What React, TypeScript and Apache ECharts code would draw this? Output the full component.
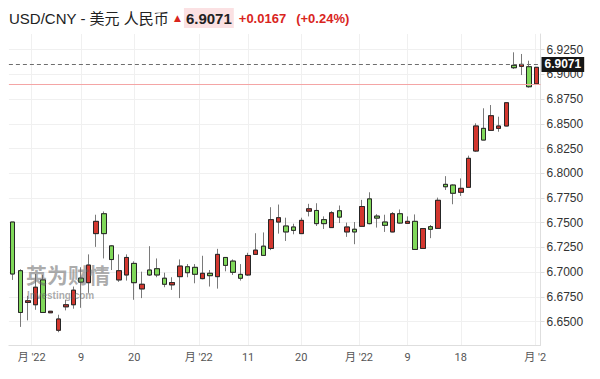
import React, { useEffect, useRef } from "react";
import * as echarts from "echarts";

// ---- data ----
const opens = [
  6.7507, 6.7015, 6.6694, 6.6671, 6.6922, 6.659, 6.6413, 6.665, 6.6671, 6.694,
  6.6894, 6.739, 6.7591, 6.7266, 6.6922, 6.6972, 6.7089, 6.6831, 6.7022, 6.7035,
  6.6939, 6.6872, 6.6955, 6.7055, 6.7049, 6.6935, 6.6989, 6.6955, 6.7149, 6.7112,
  6.6978, 6.6972, 6.718, 6.7263, 6.724, 6.7507, 6.7467, 6.7457, 6.739, 6.7617,
  6.7624, 6.7531, 6.7451, 6.7621, 6.7407, 6.7434, 6.7464, 6.7741, 6.7567, 6.7507,
  6.7407, 6.7591, 6.7494, 6.7514, 6.724, 6.746, 6.7443, 6.7888, 6.7881, 6.7808,
  6.7858, 6.8225, 6.8454, 6.8434, 6.8454, 6.8478, 6.9091, 6.9081, 6.9077, 6.8904,
];
const closes = [
  6.6982, 6.6593, 6.6711, 6.6848, 6.6593, 6.6605, 6.6527, 6.6671, 6.6818, 6.69,
  6.7072, 6.7514, 6.739, 6.7128, 6.7015, 6.7149, 6.6894, 6.6878, 6.6972, 6.6972,
  6.6878, 6.6895, 6.7062, 6.6995, 6.6979, 6.6989, 6.6965, 6.718, 6.7069, 6.6999,
  6.6939, 6.7169, 6.7223, 6.717, 6.7531, 6.7551, 6.7407, 6.7423, 6.7524, 6.7641,
  6.7491, 6.7491, 6.7601, 6.7557, 6.7457, 6.7407, 6.7664, 6.7491, 6.7547, 6.7474,
  6.7591, 6.7497, 6.7514, 6.723, 6.7441, 6.7434, 6.7727, 6.7864, 6.7798, 6.7848,
  6.8151, 6.8478, 6.8336, 6.8582, 6.8478, 6.8713, 6.9067, 6.9101, 6.8875, 6.9071,
];
const lows = [
  6.6922, 6.6447, 6.6513, 6.662, 6.6593, 6.6588, 6.6393, 6.6614, 6.6631, 6.664,
  6.6791, 6.7256, 6.7139, 6.7022, 6.6902, 6.6915, 6.6721, 6.6738, 6.6962, 6.6949,
  6.6848, 6.6821, 6.6738, 6.6949, 6.6888, 6.6928, 6.6855, 6.6834, 6.7009, 6.6972,
  6.6915, 6.6962, 6.7178, 6.7165, 6.7223, 6.739, 6.7316, 6.7383, 6.7388, 6.7564,
  6.7467, 6.7437, 6.7449, 6.7497, 6.7357, 6.7283, 6.7457, 6.7484, 6.7451, 6.7407,
  6.7404, 6.749, 6.7492, 6.7228, 6.7237, 6.7344, 6.744, 6.7831, 6.7687, 6.7771,
  6.7858, 6.8215, 6.8336, 6.843, 6.842, 6.8475, 6.9054, 6.8993, 6.8865, 6.89,
];
const highs = [
  6.7507, 6.703, 6.6761, 6.6982, 6.6972, 6.6608, 6.657, 6.6721, 6.6855, 6.705,
  6.718, 6.7581, 6.7614, 6.7275, 6.718, 6.718, 6.711, 6.7005, 6.7263, 6.7139,
  6.6995, 6.6949, 6.7129, 6.7082, 6.7082, 6.7166, 6.7022, 6.7236, 6.7152, 6.7129,
  6.7082, 6.7196, 6.7394, 6.7402, 6.7657, 6.7684, 6.7551, 6.749, 6.7551, 6.7691,
  6.7697, 6.7564, 6.7617, 6.7674, 6.7501, 6.7507, 6.7731, 6.7808, 6.7587, 6.7581,
  6.7608, 6.7634, 6.7564, 6.7584, 6.7445, 6.7477, 6.7754, 6.7971, 6.7888, 6.7948,
  6.8178, 6.8505, 6.8657, 6.869, 6.8572, 6.8716, 6.9223, 6.9206, 6.9138, 6.9075,
];

const xTickPos = [2.5, 9, 16, 24.5, 31, 38, 45.6, 52, 59, 68.8];
const xTickLabels = ["月 '22", "9", "20", "月 '22", "11", "20", "月 '22", "9", "18", "月 '2"];
const yTicks = [6.65, 6.675, 6.7, 6.725, 6.75, 6.775, 6.8, 6.825, 6.85, 6.875, 6.9, 6.925];

const titleText = "USD/CNY - 美元 人民币";
const lastPrice = 6.9071;
const prevClose = 6.8904;
const changeText = "+0.0167";
const changePctText = "(+0.24%)";

const RED = "#d3372f";
const GREEN = "#80d85a";
const FONT = '"Liberation Sans", Arial, "Noto Sans CJK SC", sans-serif';

export default function App() {
  const ref = useRef<HTMLDivElement>(null);
  useEffect(() => {
    if (!ref.current) return;
    document.body.style.margin = "0";
    const chart = echarts.init(ref.current, undefined, { renderer: "svg" });
    const categories = opens.map((_, i) => String(i));
    const wickData = opens.map((o, i) => [o, closes[i], lows[i], highs[i]]);
    const bodyData = opens.map((o, i) => [
      o,
      closes[i],
      Math.min(o, closes[i]),
      Math.max(o, closes[i]),
    ]);
    const option: any = {
      animation: false,
      backgroundColor: "#ffffff",
      textStyle: { fontFamily: FONT },
      title: {
        left: 9,
        top: 8,
        padding: 0,
        text: `{t|${titleText}} {a|▲}{p|${lastPrice.toFixed(4)}} {c|${changeText}}  {c|${changePctText}}`,
        textStyle: {
          fontWeight: "normal",
          rich: {
            t: { fontSize: 15, color: "#222", fontWeight: "normal", fontFamily: FONT },
            a: { fontSize: 9, color: "#d9251d", fontFamily: '"DejaVu Sans"', padding: [0, 3, 0, 0] },
            p: {
              fontSize: 15,
              fontWeight: "bold",
              color: "#222",
              backgroundColor: "#fbe1e3",
              padding: [3, 2, 2, 2],
              fontFamily: FONT,
            },
            c: { fontSize: 13, fontWeight: "bold", color: "#d9251d", fontFamily: FONT },
          },
        },
      },
      grid: { left: 8.9, right: 59.5, top: 34, bottom: 34 },
      xAxis: [
        {
          type: "category",
          data: categories,
          boundaryGap: true,
          show: false,
        },
        {
          type: "value",
          min: -0.5,
          max: 69.5,
          position: "bottom",
          axisLine: { show: true, onZero: false, lineStyle: { color: "#dedede" } },
          axisTick: { show: false, customValues: xTickPos },
          axisLabel: {
            customValues: xTickPos,
            color: "#555",
            fontSize: 11,
            margin: 7,
            fontFamily: "Roboto, Arial, 'Noto Sans CJK SC', sans-serif",
            formatter: (v: number) => {
              const i = xTickPos.findIndex((p) => Math.abs(p - v) < 1e-6);
              return i >= 0 ? xTickLabels[i] : "";
            },
          },
          splitLine: { show: true, lineStyle: { color: "#f0f0f0" } },
        },
      ],
      yAxis: {
        type: "value",
        position: "right",
        min: 6.6264,
        max: 6.9408,
        axisLine: { show: true, onZero: false, lineStyle: { color: "#dedede" } },
        axisTick: { show: true, length: 4, customValues: yTicks, lineStyle: { color: "#dedede" } },
        axisLabel: {
          customValues: yTicks,
          color: "#333",
          fontSize: 12,
          margin: 6,
          fontFamily: FONT,
          formatter: (v: number) => v.toFixed(4),
        },
        splitLine: { show: true, lineStyle: { color: "#f0f0f0" } },
      },
      graphic: [
        {
          type: "text",
          left: 26,
          top: 263,
          z: 10,
          silent: true,
          style: {
            text: "英为财情",
            fontSize: 21,
            lineHeight: 22,
            fontWeight: "bold",
            fill: "rgba(100,100,100,0.55)",
            fontFamily: '"Noto Sans CJK SC"',
          },
        },
        {
          type: "text",
          left: 27,
          top: 290,
          z: 10,
          silent: true,
          style: {
            text: "Investing.com",
            fontSize: 10,
            lineHeight: 10,
            fontWeight: "bold",
            fill: "rgba(100,100,100,0.55)",
            fontFamily: FONT,
          },
        },
      ],
      series: [
        {
          name: "wick",
          type: "candlestick",
          xAxisIndex: 0,
          yAxisIndex: 0,
          data: wickData,
          barWidth: 5,
          itemStyle: {
            color: RED,
            color0: GREEN,
            borderColor: "#7a7a7a",
            borderColor0: "#7a7a7a",
            borderWidth: 1,
          },
          markLine: {
            silent: true,
            symbol: ["none", "none"],
            data: [
              {
                yAxis: prevClose,
                lineStyle: { color: "#f4a5a5", type: "solid", width: 1 },
                label: { show: false },
              },
              {
                yAxis: lastPrice,
                lineStyle: { color: "#6e6e6e", type: [4, 3], width: 1 },
                label: {
                  show: true,
                  position: "end",
                  distance: 1,
                  formatter: lastPrice.toFixed(4),
                  color: "#fff",
                  fontWeight: "bold",
                  fontSize: 12,
                  fontFamily: FONT,
                  backgroundColor: "#161616",
                  padding: [2, 3, 1, 3],
                },
              },
            ],
          },
        },
        {
          name: "body",
          type: "candlestick",
          xAxisIndex: 0,
          yAxisIndex: 0,
          data: bodyData,
          barWidth: 5,
          itemStyle: {
            color: RED,
            color0: GREEN,
            borderColor: "#262626",
            borderColor0: "#262626",
            borderWidth: 1,
          },
        },
      ],
    };
    chart.setOption(option);
    return () => chart.dispose();
  }, []);
  return <div ref={ref} style={{ width: 600, height: 379 }} />;
}
